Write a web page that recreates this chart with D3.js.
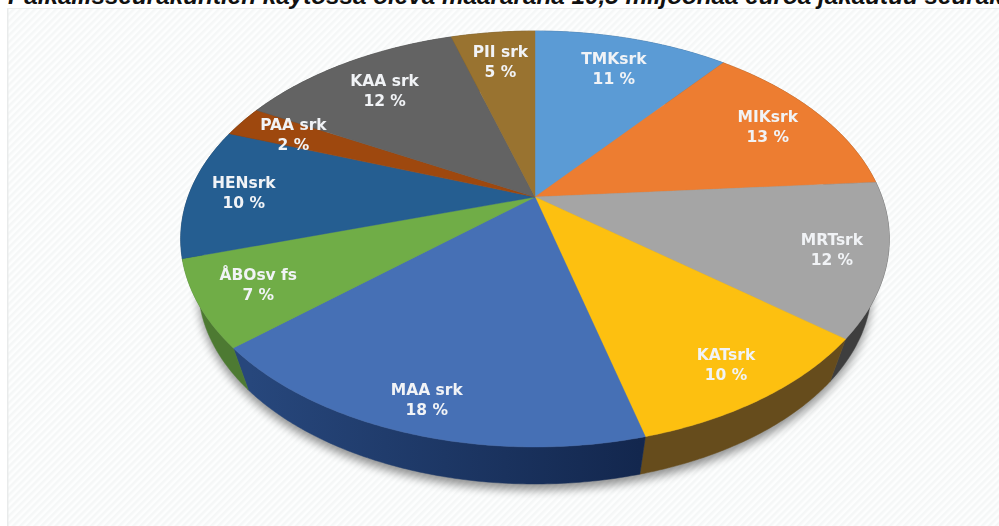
<!DOCTYPE html>
<html>
<head>
<meta charset="utf-8">
<script src="https://cdnjs.cloudflare.com/ajax/libs/d3/7.8.5/d3.min.js"></script>
<style>
html,body{margin:0;padding:0;background:#fff;overflow:hidden}
svg{display:block}
</style>
</head>
<body>
<svg id="chart" width="999" height="526"></svg>
<script>
const titleText = "Paikallisseurakuntien käytössä oleva määräraha 10,5 miljoonaa euroa jakautuu seurakunnittain";
const categories = ["TMKsrk","MIKsrk","MRTsrk","KATsrk","MAA srk","ÅBOsv fs","HENsrk","PAA srk","KAA srk","PII srk"];
const shares = [10.8,13,11.9,10.18,17.72,6.7,10.2,2.4,12.45,4.65];
const topColors = ["#5b9bd5","#ed7d31","#a5a5a5","#fdc010","#4670b5","#70ad47","#255e91","#9e480e","#636363","#997330"];
const sideColorsStart = ["#2f5d85","#8a4a1c","#3e3e3e","#664c1c","#27477c","#4d7a32","#163a5a","#5e2b08","#3b3b3b","#5c451c"];
const sideColorsEnd = ["#2f5d85","#8a4a1c","#3e3e3e","#664c1c","#13274e","#4d7a32","#163a5a","#5e2b08","#3b3b3b","#5c451c"];
const labelRadius = [.785,.816,.85,.86,.882,.837,.843,.814,.769,.793];

const cx = 535, cy = 197, W = 999, H = 526;
const tilt = 0.202, depthScale = 0.95, depthShift = 49.5;
const xS = d3.scaleLinear().domain([-1,1]).range([cx-347,cx+347]);
const yS = d3.scaleLinear().domain([-1,1]).range([cy-199.5,cy+199.5]);

function project(theta, r, lower){
  const u = r*Math.sin(theta), v = -r*Math.cos(theta), w = 1 - tilt*v;
  const x = xS(u/w), y = yS(v/w);
  return lower ? [cx+(x-cx)*depthScale, cy+(y-cy)*depthScale+depthShift] : [x,y];
}
function rim(a,b,lower){
  const n = Math.max(2,Math.ceil((b-a)/0.01));
  return d3.range(n+1).map(i=>project(a+(b-a)*i/n,1,lower));
}

const arcs = d3.pie().sort(null).value(d=>d)(shares);
const line = d3.line();
const svg = d3.select("#chart");
const defs = svg.append("defs");

const pat = defs.append("pattern").attr("id","hatch").attr("width",5).attr("height",5)
  .attr("patternUnits","userSpaceOnUse").attr("patternTransform","rotate(-45)");
pat.append("rect").attr("width",5).attr("height",5).attr("fill","#fdfefe");
pat.append("rect").attr("width",5).attr("height",2.5).attr("fill","#f5f7f7");

defs.append("filter").attr("id","shadow").attr("x","-10%").attr("y","-10%").attr("width","120%").attr("height","120%")
  .append("feGaussianBlur").attr("stdDeviation",5);
defs.append("filter").attr("id","soft").attr("x","-10%").attr("y","-10%").attr("width","120%").attr("height","120%")
  .append("feGaussianBlur").attr("stdDeviation",0.35);

arcs.forEach((d,i)=>{
  const g = defs.append("linearGradient").attr("id","side"+i).attr("gradientUnits","userSpaceOnUse")
    .attr("x1",250).attr("x2",640).attr("y1",0).attr("y2",0);
  g.append("stop").attr("offset",0).attr("stop-color",sideColorsStart[i]);
  g.append("stop").attr("offset",1).attr("stop-color",sideColorsEnd[i]);
});

// panel
svg.append("rect").attr("x",7).attr("y",8).attr("width",W-7).attr("height",H-8).attr("fill","url(#hatch)");
svg.append("rect").attr("x",7).attr("y",8).attr("width",1.5).attr("height",H-8).attr("fill","#e9ebeb");
svg.append("rect").attr("x",7).attr("y",8).attr("width",W-7).attr("height",1).attr("fill","#eceeee");

// title (clipped by the top of the frame, as in the source)
svg.append("text").attr("x",8).attr("y",4)
  .attr("font-family","'Liberation Sans',Arial,sans-serif").attr("font-weight","bold").attr("font-style","italic")
  .attr("font-size",24.25).attr("fill","#111").text(titleText);

// ground shadow
svg.append("path").attr("d",line(rim(0,2*Math.PI,true))+"Z")
  .attr("transform","translate(0,6)").attr("fill","#000").attr("opacity",0.42).attr("filter","url(#shadow)");

// side walls
svg.append("g").selectAll("path").data(arcs).join("path")
  .attr("d",d=>line(rim(d.startAngle,d.endAngle,false).concat(rim(d.startAngle,d.endAngle,true).reverse()))+"Z")
  .attr("fill",(d,i)=>`url(#side${i})`)
  .attr("stroke",(d,i)=>`url(#side${i})`).attr("stroke-width",0.5);

// top faces
svg.append("g").selectAll("path").data(arcs).join("path")
  .attr("d",d=>line([[cx,cy]].concat(rim(d.startAngle,d.endAngle,false)))+"Z")
  .attr("fill",(d,i)=>topColors[i])
  .attr("stroke",(d,i)=>topColors[i]).attr("stroke-width",0.4);

// labels
const labels = svg.append("g").attr("filter","url(#soft)")
  .attr("font-family","'DejaVu Sans',Verdana,sans-serif").attr("font-weight","bold")
  .attr("font-size",15.5).attr("fill","#f1f3f6").attr("text-anchor","middle");
arcs.forEach((d,i)=>{
  const [x,y] = project((d.startAngle+d.endAngle)/2,labelRadius[i],false);
  labels.append("text").attr("x",x).attr("y",y-5).text(categories[i]);
  labels.append("text").attr("x",x).attr("y",y+15).text(Math.round(shares[i])+" %");
});
</script>
</body>
</html>
